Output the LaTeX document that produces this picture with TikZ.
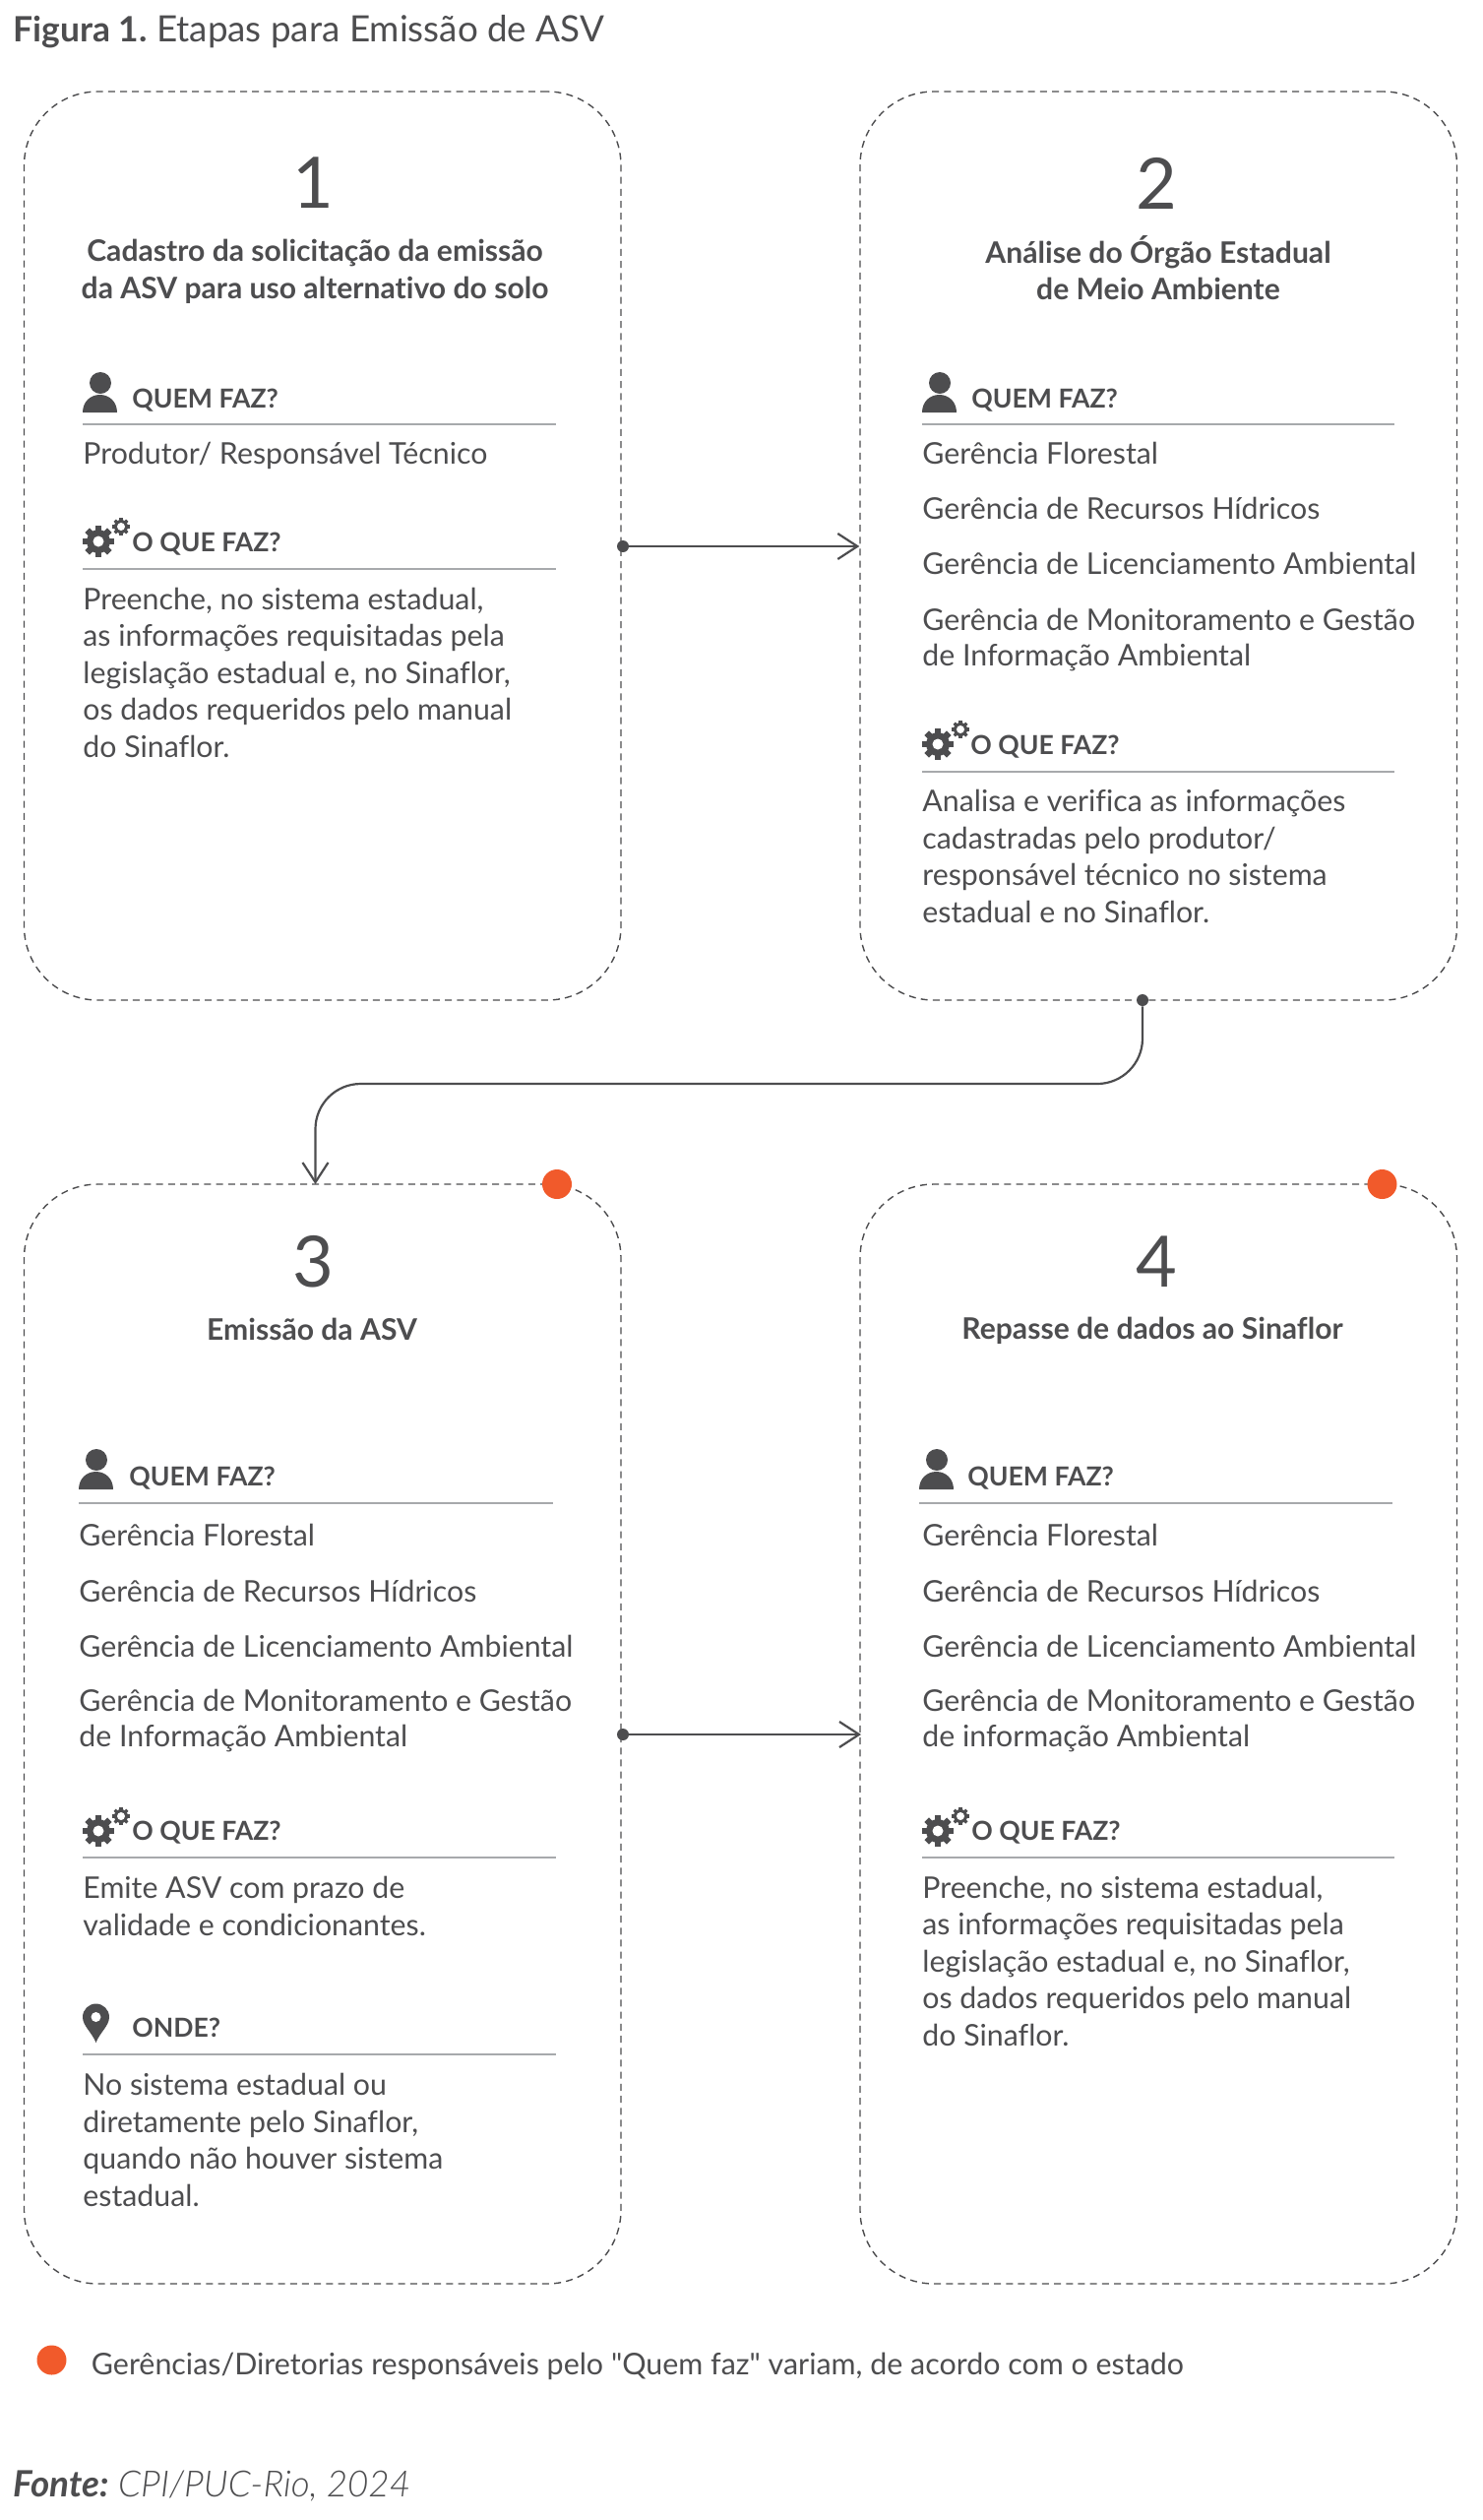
\documentclass[tikz,border=0pt]{standalone}
\usepackage{fontspec}
\setmainfont{Lato}[Ligatures={TeXOff,NoCommon},BoldFont=* Bold,ItalicFont=* Light Italic,BoldItalicFont=* Bold Italic]
\usepackage{tikz}
\usetikzlibrary{arrows.meta,positioning,calc}
\definecolor{tinta}{HTML}{4D4D4F}
\definecolor{laranja}{HTML}{F15A2B}
\definecolor{fio}{HTML}{A7A9AC}
\tikzset{
  caixa/.style={draw=tinta,dashed,dash pattern=on 3.5pt off 2.6pt,line width=.7pt,rounded corners=37.5pt,
                minimum width=303.25pt,minimum height=461.5pt,inner sep=0pt},
  caixaalta/.style={caixa,minimum height=558.5pt},
  numero/.style={font=\fontsize{36}{36}\selectfont,text=tinta,anchor=center,inner sep=0pt},
  titulo/.style={font=\fontsize{15.05}{18.75}\selectfont\bfseries,text=tinta,align=center,anchor=center,inner sep=0pt},
  cabeca/.style={font=\fontsize{13.3}{14}\selectfont\bfseries,text=tinta,anchor=base west,inner sep=0pt},
  corpo/.style={font=\fontsize{15.15}{18.75}\selectfont,text=tinta,align=left,anchor=base west,inner sep=0pt},
  regra/.style={draw=fio,line width=.8pt},
  seta/.style={-{Straight Barb[length=10pt,width=13pt]},draw=tinta,line width=1.1pt},
  ponto/.style={circle,fill=tinta,inner sep=0pt,minimum size=6pt},
  marca/.style={circle,fill=laranja,inner sep=0pt,minimum size=15pt},
  pessoa/.pic={
    \fill[tinta] (18,-25) circle[radius=11];
    \fill[tinta] (0,5) .. controls (0,-6) and (8,-13) .. (17.5,-13) .. controls (27,-13) and (35,-6) .. (35,5) -- cycle;
  },
  engrenagens/.pic={
    \begin{scope}[shift={(16,-9)}]
      \foreach \a in {0,45,...,315} \draw[tinta,line width=3.2pt] (\a:8) -- (\a:16);
      \fill[tinta] (0,0) circle[radius=12];
      \fill[white] (0,0) circle[radius=5.5];
    \end{scope}
    \begin{scope}[shift={(39,-24)}]
      \foreach \a in {0,45,...,315} \draw[tinta,line width=1.6pt] (\a:5) -- (\a:9);
      \fill[tinta] (0,0) circle[radius=7];
      \fill[white] (0,0) circle[radius=4];
    \end{scope}
  },
  pino/.pic={
    \fill[tinta] (13.5,7) .. controls (9,-4) and (0,-10) .. (0,-19) arc[start angle=180,end angle=360,radius=13.5]
      .. controls (27,-10) and (18,-4) .. (13.5,7) -- cycle;
    \fill[white] (13.5,-19) circle[radius=5];
  },
}
\begin{document}
\begin{tikzpicture}[x=.5pt,y=-.5pt]
  \useasboundingbox (0,0) rectangle (1507,2560);
  % titulo
  \node[anchor=base west,inner sep=0pt,text=tinta,font=\fontsize{18.4}{19}\selectfont] (fig) at (13,42) {{\fontsize{17.7}{19}\selectfont\textbf{Figura 1.}}\hspace{-1.5pt} Etapas para Emissão de ASV};
  % caixas
  \node[caixa] (box1) at (327.75,554.5) {};
  \node[caixa] (box2) at (1177.25,554.5) {};
  \node[caixaalta] (box3) at (327.75,1761.5) {};
  \node[caixaalta] (box4) at (1177.25,1761.5) {};
  % 1
  \node[numero] (n1) at (318,186) {1};
  \node[titulo] (t1) at (320,276) {Cadastro da solicitação da emissão\\da ASV para uso alternativo do solo};
  \pic at (84,414) {pessoa};
  \node[cabeca] (q1) at (134,414) {QUEM FAZ?};
  \draw[regra] (84,431) -- (565,431);
  \node[corpo] (p1) at (84,471) {Produtor/ Responsável Técnico};
  \pic at (84,559) {engrenagens};
  \node[cabeca] (o1) at (134,560) {O QUE FAZ?};
  \draw[regra] (84,578) -- (565,578);
  \node[corpo] (f1) at (84,769) {Preenche, no sistema estadual,\\as informações requisitadas pela\\legislação estadual e, no Sinaflor,\\os dados requeridos pelo manual\\do Sinaflor.};
  % 2
  \node[numero] (n2) at (1175.5,186) {2};
  \node[titulo] (t2) at (1177,272) {Análise do Órgão Estadual\\de Meio Ambiente};
  \pic at (937,414) {pessoa};
  \node[cabeca] (q2) at (987,414) {QUEM FAZ?};
  \draw[regra] (937,431) -- (1417,431);
  \foreach \txt/\yy [count=\n] in {Gerência Florestal/471,Gerência de Recursos Hídricos/527,Gerência de Licenciamento Ambiental/583,Gerência de Monitoramento e Gestão/640,de Informação Ambiental/676}
    \node[corpo] (g2-\n) at (937,\yy) {\txt};
  \pic at (937,765) {engrenagens};
  \node[cabeca] (o2) at (986,766) {O QUE FAZ?};
  \draw[regra] (937,784) -- (1417,784);
  \node[corpo] (f2) at (937,937) {Analisa e verifica as informações\\cadastradas pelo produtor/\\responsável técnico no sistema\\estadual e no Sinaflor.};
  % 3
  \node[marca] (m3) at (566,1203) {};
  \node[numero] (n3) at (318,1282) {3};
  \node[titulo] (t3) at (317,1350) {Emissão da ASV};
  \pic at (80,1508) {pessoa};
  \node[cabeca] (q3) at (131,1509) {QUEM FAZ?};
  \draw[regra] (80,1527) -- (562,1527);
  \foreach \txt/\yy [count=\n] in {Gerência Florestal/1570,Gerência de Recursos Hídricos/1627,Gerência de Licenciamento Ambiental/1683,Gerência de Monitoramento e Gestão/1738,de Informação Ambiental/1774}
    \node[corpo] (g3-\n) at (80,\yy) {\txt};
  \pic at (84,1869) {engrenagens};
  \node[cabeca] (o3) at (134,1869) {O QUE FAZ?};
  \draw[regra] (84,1887) -- (565,1887);
  \node[corpo] (f3) at (84,1966) {Emite ASV com prazo de\\validade e condicionantes.};
  \pic at (84,2068) {pino};
  \node[cabeca] (w3) at (134,2069) {ONDE?};
  \draw[regra] (84,2087) -- (565,2087);
  \node[corpo] (d3) at (84,2241) {No sistema estadual ou\\diretamente pelo Sinaflor,\\quando não houver sistema\\estadual.};
  % 4
  \node[marca] (m4) at (1404.5,1203) {};
  \node[numero] (n4) at (1175.5,1282) {4};
  \node[titulo] (t4) at (1171,1351.5) {Repasse de dados ao Sinaflor};
  \pic at (934,1508) {pessoa};
  \node[cabeca] (q4) at (983,1509) {QUEM FAZ?};
  \draw[regra] (934,1527) -- (1415,1527);
  \foreach \txt/\yy [count=\n] in {Gerência Florestal/1570,Gerência de Recursos Hídricos/1627,Gerência de Licenciamento Ambiental/1683,Gerência de Monitoramento e Gestão/1738,de informação Ambiental/1774}
    \node[corpo] (g4-\n) at (937,\yy) {\txt};
  \pic at (937,1869) {engrenagens};
  \node[cabeca] (o4) at (987,1869) {O QUE FAZ?};
  \draw[regra] (937,1887) -- (1417,1887);
  \node[corpo] (f4) at (937,2078) {Preenche, no sistema estadual,\\as informações requisitadas pela\\legislação estadual e, no Sinaflor,\\os dados requeridos pelo manual\\do Sinaflor.};
  % setas
  \node[ponto] (s1) at (633,555) {};
  \coordinate (c2) at (box2.west |- s1);
  \draw[seta] (s1) -- (c2);
  \node[ponto] (s2) at (1161,1016) {};
  \coordinate (dobra) at (320.5,1101);
  \coordinate (c3) at (320.5,1203);
  \draw[seta,rounded corners=23pt] (s2) |- (dobra) -- (c3);
  \node[ponto] (s3) at (633,1762) {};
  \coordinate (c4) at (875,1762);
  \draw[seta] (s3) -- (c4);
  % legenda e fonte
  \node[marca] (leg) at (52.5,2397.5) {};
  \node[corpo,font=\fontsize{15.2}{18.75}\selectfont] (legtxt) at (92.5,2412) {Gerências/Diretorias responsáveis pelo "Quem faz" variam, de acordo com o estado};
  \node[anchor=base west,inner sep=0pt,text=tinta,font=\fontsize{18.4}{19}\selectfont\itshape] (fonte) at (13,2536) {\textbf{Fonte:}\hspace{-1.5pt} CPI/PUC-Rio, 2024};
\end{tikzpicture}
\end{document}
